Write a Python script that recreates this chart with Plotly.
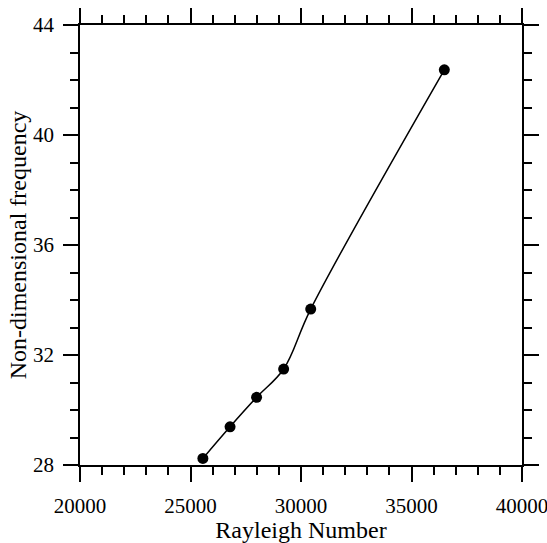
import plotly.graph_objects as go

rayleigh = [25560, 26790, 27990, 29215, 30440, 36485]
frequency = [28.24, 29.39, 30.46, 31.49, 33.67, 42.37]

x_range = [20000, 40000]
y_range = [28, 44]

FONT = "Liberation Serif"

fig = go.Figure()
fig.add_trace(go.Scatter(
    x=rayleigh, y=frequency, mode="lines+markers",
    line=dict(color="black", width=1.5, shape="spline", smoothing=1),
    marker=dict(color="black", size=11, symbol="circle"),
    showlegend=False, cliponaxis=False,
))

axis_common = dict(
    showline=True, linecolor="black", linewidth=1.5,
    mirror="allticks", ticks="outside", ticklen=15, tickwidth=1.5, tickcolor="black",
    showgrid=False, zeroline=False, automargin=False,
    ticklabeloverflow="allow",
    tickfont=dict(family=FONT, size=21, color="black"),
)

fig.update_xaxes(
    range=x_range, tickvals=[20000, 25000, 30000, 35000, 40000],
    ticktext=["20000", "25000", "30000", "35000", "40000"],
    minor=dict(dtick=1000, tick0=20000, ticks="outside", ticklen=8, tickwidth=1.5, tickcolor="black", showgrid=False),
    title=dict(text="Rayleigh Number", font=dict(family=FONT, size=24, color="black"), standoff=4),
    ticklabelstandoff=6,
    **axis_common,
)
fig.update_yaxes(
    range=y_range, tickvals=[28, 32, 36, 40, 44],
    ticktext=["28", "32", "36", "40", "44"],
    minor=dict(dtick=1, tick0=28, ticks="outside", ticklen=8, tickwidth=1.5, tickcolor="black", showgrid=False),
    title=dict(text="Non-dimensional frequency", font=dict(family=FONT, size=24, color="black"), standoff=0),
    ticklabelstandoff=5,
    **axis_common,
)

fig.update_layout(
    width=547, height=543,
    margin=dict(l=80, r=25, t=25, b=78),
    paper_bgcolor="white", plot_bgcolor="white",
)

fig.write_html("out.html")
